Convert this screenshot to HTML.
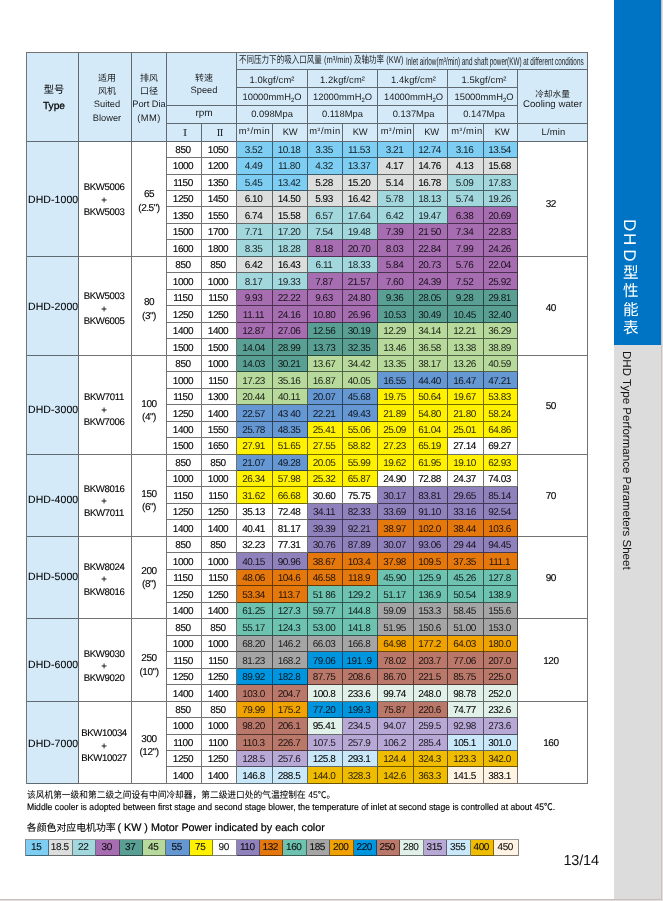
<!DOCTYPE html>
<html lang="zh-CN">
<head>
<meta charset="utf-8">
<title>DHD型性能表 DHD Type Performance Parameters Sheet</title>
<style>
html,body{margin:0;padding:0}
body{width:663px;height:901px;overflow:hidden;background:#e3dddd;position:relative;
 font-family:"Liberation Sans","Noto Sans CJK SC",sans-serif;color:#1c1c1c;
 text-rendering:geometricPrecision;-webkit-font-smoothing:antialiased}
.page{position:absolute;left:0;top:0;width:661px;height:899px;background:#fff;
 border-right:1px solid #c9c2c2;border-bottom:1px solid #c6bfbf;overflow:hidden}
.side{position:absolute;left:614px;top:0;width:47px;height:899px;background:#dcdcdc}
.side .blue{position:absolute;left:0;top:0;width:47px;height:345px;background:#0074c4}
.side h1{position:absolute;left:-1.2px;top:219px;width:33px;height:125px;margin:0;font-weight:400;color:#fff;
 font-size:15.6px;line-height:33px;writing-mode:vertical-rl;letter-spacing:2.85px;white-space:nowrap}
.side h1 .lat{font-size:17px;letter-spacing:3.1px}
.side h1 .l1{letter-spacing:1.8px}
.side h1 .l2{letter-spacing:3.9px}
.side h1 .l3{letter-spacing:2.45px}
.side h2{position:absolute;left:-1.6px;top:351px;width:27px;height:230px;margin:0;font-weight:400;color:#111;
 font-size:11.56px;line-height:27px;writing-mode:vertical-rl;white-space:nowrap}
table.t{position:absolute;left:26px;top:52px;border-collapse:separate;border-spacing:0;table-layout:fixed;
 border-left:1px solid #737373;border-top:1px solid #737373;width:562px}
table.t td,table.t th{box-sizing:border-box;padding:0;margin:0;border-right:1px solid rgba(0,0,0,.55);border-bottom:1px solid rgba(0,0,0,.55);
 text-align:center;vertical-align:middle;font-weight:400;overflow:hidden;white-space:nowrap}
table.t td{font-size:10px;line-height:12px;letter-spacing:-.45px;padding-top:2px}
table.t th{background:#d4eaf9;font-size:9.4px;line-height:12px}
table.t td.d{vertical-align:top;padding:0 2px 0 0;color:rgba(0,0,0,.85)}
table.t td.d.k{color:#000;-webkit-text-stroke:.06px #000}
table.t tr.r1 td.d{padding-top:1px}
table.t tr.r2 td.d{padding-top:2px}
table.t tr.r3 td.d{padding-top:3px}
table.t tr.r4 td.d{padding-top:4px}
table.t tr.r5 td.d{padding-top:5px}
table.t td.ty{background:#d4eaf9;font-size:10.5px;letter-spacing:.08px;padding-top:2px;padding-left:1px;color:#000;-webkit-text-stroke:.06px #000}
table.t td.w,table.t td.d.w{background:#fff;color:#000;-webkit-text-stroke:.12px #000}
table.t td.bl{line-height:12.4px;font-size:9.6px;letter-spacing:-.35px;padding-top:5px;padding-right:2px}
table.t td.di{line-height:13.3px;font-size:10px;padding-top:5px}
table.t td.cw{padding-right:3.4px}
table.t th.h4{line-height:13.2px;font-size:9.3px}
table.t th.h4 .zh{font-size:9px}
table.t th.tp{font-size:10.2px;line-height:15.8px;padding-left:3px;padding-top:3px;color:#000}
table.t th.tp .b{-webkit-text-stroke:.25px #000}
table.t th .up{position:relative;top:-1px}
table.t th .mm{letter-spacing:.4px}
table.t th.sb{padding-left:4px;padding-top:3px}
table.t th.pd{padding-top:3px}
table.t th.sp{padding-left:5px;padding-top:12px}
table.t th.rpm{padding-left:5px;font-size:10px;padding-bottom:1px}
table.t th.ro{padding-left:2px;padding-bottom:2px;font-size:9.2px;color:#000;-webkit-text-stroke:.15px #000;font-family:"Noto Serif CJK SC","Liberation Serif",serif}
table.t th.p1{padding-top:2px;letter-spacing:.15px}
table.t th.p2{padding-top:1px}
table.t th.p3{padding-bottom:1px}
table.t th.u{letter-spacing:.55px;padding-bottom:2px}
table.t th.u .s3{font-size:7.5px;position:relative;top:-1.2px;letter-spacing:.9px}
table.t th.g3{padding-left:2px}
table.t th.g4{padding-left:3px}
table.t th.kw{letter-spacing:-.3px;padding-bottom:2px}
table.t th.lm{padding-left:2px;letter-spacing:.2px;padding-bottom:2px}
table.t th.cwh{font-size:9.7px;line-height:9.7px;padding-top:6px}
table.t th.cwh .zh{font-size:8.7px}
table.t th.ttl{text-align:left;font-size:9px;position:relative}
.cx{position:absolute;top:2px;line-height:12px;transform-origin:0 50%;white-space:nowrap}
.cx.zh{left:1.9px;font-size:10px;transform:scaleX(.753)}
.cx.en{left:168.8px;top:3px;font-size:11px;transform:scaleX(.578)}
.note{position:absolute;left:26.8px;margin:0;white-space:nowrap;color:#000;transform-origin:0 50%}
.n1{top:789.3px;font-size:9.3px;line-height:12px;transform:scaleX(.937);-webkit-text-stroke:.06px #000}
.n2{top:801.4px;font-size:9.3px;line-height:12px;transform:scaleX(.928);-webkit-text-stroke:.15px #000}
.n3{top:820.1px;font-size:9.9px;line-height:16px;-webkit-text-stroke:.08px #000}
.n3 .lt{font-size:10.75px;margin-left:-1.2px;-webkit-text-stroke:.2px #000}
.legend{position:absolute;left:25px;top:839px;border-collapse:separate;border-spacing:0;table-layout:fixed;
 border-left:1px solid #858585;border-top:1px solid #9a9a9a}
.legend td{box-sizing:border-box;padding:1px 1.5px 0 0;height:16px;border-right:1px solid rgba(0,0,0,.45);border-bottom:1px solid rgba(0,0,0,.5);
 text-align:center;font-size:10px;letter-spacing:-.4px;line-height:12px;vertical-align:middle;color:rgba(0,0,0,.92);-webkit-text-stroke:.1px rgba(0,0,0,.92)}
.pg{position:absolute;left:563.5px;top:851px;font-size:14.5px;letter-spacing:-.2px;line-height:20px;color:#111}
sub{font-size:6px;vertical-align:-2px;line-height:0}
</style>
</head>
<body>
<div class="page">
<table class="t">
<colgroup><col style="width:52px"><col style="width:53px"><col style="width:35px"><col style="width:35px"><col style="width:35px"><col style="width:36px"><col style="width:35px"><col style="width:35px"><col style="width:35px"><col style="width:36px"><col style="width:34px"><col style="width:36px"><col style="width:34px"><col style="width:70px"></colgroup>
<thead>
<tr style="height:17px"><th rowspan="5" class="tp">型号<br><span class="b">Type</span></th><th rowspan="5" class="h4 sb"><span class="zh">适用</span><br><span class="zh">风机</span><br><span class="up">Suited</span><br>Blower</th><th rowspan="5" class="h4 pd"><span class="zh">排风</span><br><span class="zh">口径</span><br><span class="up">Port Dia</span><br><span class="mm">(MM)</span></th><th rowspan="3" colspan="2" class="h4 sp"><span class="zh">转速</span><br><span class="up">Speed</span></th><th colspan="9" class="ttl"><span class="cx zh">不同压力下的吸入口风量 (m³/min) 及轴功率 (KW)</span><span class="cx en">Inlet airlow(m³/min) and shaft power(KW) at different conditions</span></th></tr>
<tr style="height:18px"><th colspan="2" class="p1 g1">1.0kgf/cm²</th><th colspan="2" class="p1 g2">1.2kgf/cm²</th><th colspan="2" class="p1 g3">1.4kgf/cm²</th><th colspan="2" class="p1 g4">1.5kgf/cm²</th><th rowspan="3" class="cwh"><span class="zh">冷却水量</span><br>Cooling water</th></tr>
<tr style="height:18px"><th colspan="2" class="p2 g1">10000mmH<sub>2</sub>O</th><th colspan="2" class="p2 g2">12000mmH<sub>2</sub>O</th><th colspan="2" class="p2 g3">14000mmH<sub>2</sub>O</th><th colspan="2" class="p2 g4">15000mmH<sub>2</sub>O</th></tr>
<tr style="height:18px"><th colspan="2" class="rpm">rpm</th><th colspan="2" class="p3 g1">0.098Mpa</th><th colspan="2" class="p3 g2">0.118Mpa</th><th colspan="2" class="p3 g3">0.137Mpa</th><th colspan="2" class="p3 g4">0.147Mpa</th></tr>
<tr style="height:18px"><th class="ro">Ⅰ</th><th class="ro">Ⅱ</th><th class="u g1">m<span class="s3">³</span>/min</th><th class="kw g1">KW</th><th class="u g2">m<span class="s3">³</span>/min</th><th class="kw g2">KW</th><th class="u g3">m<span class="s3">³</span>/min</th><th class="kw g3">KW</th><th class="u g4">m<span class="s3">³</span>/min</th><th class="kw g4">KW</th><th class="lm">L/min</th></tr>
</thead>
<tbody>
<tr class="r3" style="height:16px"><td rowspan="7" class="ty" style="padding-top:1.2px">DHD-1000</td><td rowspan="7" class="w bl" style="padding-top:3.8px">BKW5006<br>+<br>BKW5003</td><td rowspan="7" class="w di" style="padding-top:5px">65<br>(2.5")</td><td class="d w">850</td><td class="d w">1050</td><td class="d" style="background:#7ecef4">3.52</td><td class="d" style="background:#7ecef4">10.18</td><td class="d" style="background:#7ecef4">3.35</td><td class="d" style="background:#7ecef4">11.53</td><td class="d" style="background:#7ecef4">3.21</td><td class="d" style="background:#7ecef4">12.74</td><td class="d" style="background:#7ecef4">3.16</td><td class="d" style="background:#7ecef4">13.54</td><td rowspan="7" class="w cw" style="padding-top:11px">32</td></tr>
<tr class="r3" style="height:17px"><td class="d w">1000</td><td class="d w">1200</td><td class="d" style="background:#7ecef4">4.49</td><td class="d" style="background:#7ecef4">11.80</td><td class="d" style="background:#7ecef4">4.32</td><td class="d" style="background:#7ecef4">13.37</td><td class="d k" style="background:#dcdddd">4.17</td><td class="d k" style="background:#dcdddd">14.76</td><td class="d k" style="background:#dcdddd">4.13</td><td class="d k" style="background:#dcdddd">15.68</td></tr>
<tr class="r3" style="height:16px"><td class="d w">1150</td><td class="d w">1350</td><td class="d" style="background:#7ecef4">5.45</td><td class="d" style="background:#7ecef4">13.42</td><td class="d k" style="background:#dcdddd">5.28</td><td class="d k" style="background:#dcdddd">15.20</td><td class="d k" style="background:#dcdddd">5.14</td><td class="d k" style="background:#dcdddd">16.78</td><td class="d" style="background:#a2d7dd">5.09</td><td class="d" style="background:#a2d7dd">17.83</td></tr>
<tr class="r3" style="height:16px"><td class="d w">1250</td><td class="d w">1450</td><td class="d k" style="background:#dcdddd">6.10</td><td class="d k" style="background:#dcdddd">14.50</td><td class="d k" style="background:#dcdddd">5.93</td><td class="d k" style="background:#dcdddd">16.42</td><td class="d" style="background:#a2d7dd">5.78</td><td class="d" style="background:#a2d7dd">18.13</td><td class="d" style="background:#a2d7dd">5.74</td><td class="d" style="background:#a2d7dd">19.26</td></tr>
<tr class="r4" style="height:17px"><td class="d w">1350</td><td class="d w">1550</td><td class="d k" style="background:#dcdddd">6.74</td><td class="d k" style="background:#dcdddd">15.58</td><td class="d" style="background:#a2d7dd">6.57</td><td class="d" style="background:#a2d7dd">17.64</td><td class="d" style="background:#a2d7dd">6.42</td><td class="d" style="background:#a2d7dd">19.47</td><td class="d" style="background:#a66db0">6.38</td><td class="d" style="background:#a66db0">20.69</td></tr>
<tr class="r3" style="height:16px"><td class="d w">1500</td><td class="d w">1700</td><td class="d" style="background:#a2d7dd">7.71</td><td class="d" style="background:#a2d7dd">17.20</td><td class="d" style="background:#a2d7dd">7.54</td><td class="d" style="background:#a2d7dd">19.48</td><td class="d" style="background:#a66db0">7.39</td><td class="d" style="background:#a66db0">21 50</td><td class="d" style="background:#a66db0">7.34</td><td class="d" style="background:#a66db0">22.83</td></tr>
<tr class="r4" style="height:17px"><td class="d w">1600</td><td class="d w">1800</td><td class="d" style="background:#a2d7dd">8.35</td><td class="d" style="background:#a2d7dd">18.28</td><td class="d" style="background:#a66db0">8.18</td><td class="d" style="background:#a66db0">20.70</td><td class="d" style="background:#a66db0">8.03</td><td class="d" style="background:#a66db0">22.84</td><td class="d" style="background:#a66db0">7.99</td><td class="d" style="background:#a66db0">24.26</td></tr>
<tr class="r3" style="height:16px"><td rowspan="6" class="ty" style="padding-top:2px">DHD-2000</td><td rowspan="6" class="w bl" style="padding-top:7.6px">BKW5003<br>+<br>BKW6005</td><td rowspan="6" class="w di" style="padding-top:7.2px">80<br>(3")</td><td class="d w">850</td><td class="d w">850</td><td class="d k" style="background:#dcdddd">6.42</td><td class="d k" style="background:#dcdddd">16.43</td><td class="d" style="background:#a2d7dd">6.11</td><td class="d" style="background:#a2d7dd">18.33</td><td class="d" style="background:#a66db0">5.84</td><td class="d" style="background:#a66db0">20.73</td><td class="d" style="background:#a66db0">5.76</td><td class="d" style="background:#a66db0">22.04</td><td rowspan="6" class="w cw" style="padding-top:6.7px">40</td></tr>
<tr class="r4" style="height:17px"><td class="d w">1000</td><td class="d w">1000</td><td class="d" style="background:#a2d7dd">8.17</td><td class="d" style="background:#a2d7dd">19.33</td><td class="d" style="background:#a66db0">7.87</td><td class="d" style="background:#a66db0">21.57</td><td class="d" style="background:#a66db0">7.60</td><td class="d" style="background:#a66db0">24.39</td><td class="d" style="background:#a66db0">7.52</td><td class="d" style="background:#a66db0">25.92</td></tr>
<tr class="r3" style="height:16px"><td class="d w">1150</td><td class="d w">1150</td><td class="d" style="background:#a66db0">9.93</td><td class="d" style="background:#a66db0">22.22</td><td class="d" style="background:#a66db0">9.63</td><td class="d" style="background:#a66db0">24.80</td><td class="d" style="background:#5a9f93">9.36</td><td class="d" style="background:#5a9f93">28.05</td><td class="d" style="background:#5a9f93">9.28</td><td class="d" style="background:#5a9f93">29.81</td></tr>
<tr class="r4" style="height:17px"><td class="d w">1250</td><td class="d w">1250</td><td class="d" style="background:#a66db0">11.11</td><td class="d" style="background:#a66db0">24.16</td><td class="d" style="background:#a66db0">10.80</td><td class="d" style="background:#a66db0">26.96</td><td class="d" style="background:#5a9f93">10.53</td><td class="d" style="background:#5a9f93">30.49</td><td class="d" style="background:#5a9f93">10.45</td><td class="d" style="background:#5a9f93">32.40</td></tr>
<tr class="r3" style="height:16px"><td class="d w">1400</td><td class="d w">1400</td><td class="d" style="background:#a66db0">12.87</td><td class="d" style="background:#a66db0">27.06</td><td class="d" style="background:#5a9f93">12.56</td><td class="d" style="background:#5a9f93">30.19</td><td class="d" style="background:#b7d99b">12.29</td><td class="d" style="background:#b7d99b">34.14</td><td class="d" style="background:#b7d99b">12.21</td><td class="d" style="background:#b7d99b">36.29</td></tr>
<tr class="r4" style="height:17px"><td class="d w">1500</td><td class="d w">1500</td><td class="d" style="background:#5a9f93">14.04</td><td class="d" style="background:#5a9f93">28.99</td><td class="d" style="background:#5a9f93">13.73</td><td class="d" style="background:#5a9f93">32.35</td><td class="d" style="background:#b7d99b">13.46</td><td class="d" style="background:#b7d99b">36.58</td><td class="d" style="background:#b7d99b">13.38</td><td class="d" style="background:#b7d99b">38.89</td></tr>
<tr class="r3" style="height:16px"><td rowspan="6" class="ty" style="padding-top:9.4px">DHD-3000</td><td rowspan="6" class="w bl" style="padding-top:12px">BKW7011<br>+<br>BKW7006</td><td rowspan="6" class="w di" style="padding-top:12px">100<br>(4")</td><td class="d w">850</td><td class="d w">1000</td><td class="d" style="background:#5a9f93">14.03</td><td class="d" style="background:#5a9f93">30.21</td><td class="d" style="background:#b7d99b">13.67</td><td class="d" style="background:#b7d99b">34.42</td><td class="d" style="background:#b7d99b">13.35</td><td class="d" style="background:#b7d99b">38.17</td><td class="d" style="background:#b7d99b">13.26</td><td class="d" style="background:#b7d99b">40.59</td><td rowspan="6" class="w cw" style="padding-top:3.6px">50</td></tr>
<tr class="r4" style="height:17px"><td class="d w">1000</td><td class="d w">1150</td><td class="d" style="background:#b7d99b">17.23</td><td class="d" style="background:#b7d99b">35.16</td><td class="d" style="background:#b7d99b">16.87</td><td class="d" style="background:#b7d99b">40.05</td><td class="d" style="background:#6597d3">16.55</td><td class="d" style="background:#6597d3">44.40</td><td class="d" style="background:#6597d3">16.47</td><td class="d" style="background:#6597d3">47.21</td></tr>
<tr class="r3" style="height:16px"><td class="d w">1150</td><td class="d w">1300</td><td class="d" style="background:#b7d99b">20.44</td><td class="d" style="background:#b7d99b">40.11</td><td class="d" style="background:#6597d3">20.07</td><td class="d" style="background:#6597d3">45.68</td><td class="d" style="background:#fff100">19.75</td><td class="d" style="background:#fff100">50.64</td><td class="d" style="background:#fff100">19.67</td><td class="d" style="background:#fff100">53.83</td></tr>
<tr class="r4" style="height:17px"><td class="d w">1250</td><td class="d w">1400</td><td class="d" style="background:#6597d3">22.57</td><td class="d" style="background:#6597d3">43 40</td><td class="d" style="background:#6597d3">22.21</td><td class="d" style="background:#6597d3">49.43</td><td class="d" style="background:#fff100">21.89</td><td class="d" style="background:#fff100">54.80</td><td class="d" style="background:#fff100">21.80</td><td class="d" style="background:#fff100">58.24</td></tr>
<tr class="r3" style="height:16px"><td class="d w">1400</td><td class="d w">1550</td><td class="d" style="background:#6597d3">25.78</td><td class="d" style="background:#6597d3">48.35</td><td class="d" style="background:#fff100">25.41</td><td class="d" style="background:#fff100">55.06</td><td class="d" style="background:#fff100">25.09</td><td class="d" style="background:#fff100">61.04</td><td class="d" style="background:#fff100">25.01</td><td class="d" style="background:#fff100">64.86</td></tr>
<tr class="r3" style="height:17px"><td class="d w">1500</td><td class="d w">1650</td><td class="d" style="background:#fff100">27.91</td><td class="d" style="background:#fff100">51.65</td><td class="d" style="background:#fff100">27.55</td><td class="d" style="background:#fff100">58.82</td><td class="d" style="background:#fff100">27.23</td><td class="d" style="background:#fff100">65.19</td><td class="d w">27.14</td><td class="d w">69.27</td></tr>
<tr class="r3" style="height:16px"><td rowspan="5" class="ty" style="padding-top:8.2px">DHD-4000</td><td rowspan="5" class="w bl" style="padding-top:13.4px">BKW8016<br>+<br>BKW7011</td><td rowspan="5" class="w di" style="padding-top:11.4px">150<br>(6")</td><td class="d w">850</td><td class="d w">850</td><td class="d" style="background:#6597d3">21.07</td><td class="d" style="background:#6597d3">49.28</td><td class="d" style="background:#fff100">20.05</td><td class="d" style="background:#fff100">55.99</td><td class="d" style="background:#fff100">19.62</td><td class="d" style="background:#fff100">61.95</td><td class="d" style="background:#fff100">19.10</td><td class="d" style="background:#fff100">62.93</td><td rowspan="5" class="w cw" style="padding-top:2.4px">70</td></tr>
<tr class="r3" style="height:16px"><td class="d w">1000</td><td class="d w">1000</td><td class="d" style="background:#fff100">26.34</td><td class="d" style="background:#fff100">57.98</td><td class="d" style="background:#fff100">25.32</td><td class="d" style="background:#fff100">65.87</td><td class="d w">24.90</td><td class="d w">72.88</td><td class="d w">24.37</td><td class="d w">74.03</td></tr>
<tr class="r4" style="height:17px"><td class="d w">1150</td><td class="d w">1150</td><td class="d" style="background:#fff100">31.62</td><td class="d" style="background:#fff100">66.68</td><td class="d w">30.60</td><td class="d w">75.75</td><td class="d" style="background:#8f82bc">30.17</td><td class="d" style="background:#8f82bc">83.81</td><td class="d" style="background:#8f82bc">29.65</td><td class="d" style="background:#8f82bc">85.14</td></tr>
<tr class="r3" style="height:16px"><td class="d w">1250</td><td class="d w">1250</td><td class="d w">35.13</td><td class="d w">72.48</td><td class="d" style="background:#8f82bc">34.11</td><td class="d" style="background:#8f82bc">82.33</td><td class="d" style="background:#8f82bc">33.69</td><td class="d" style="background:#8f82bc">91.10</td><td class="d" style="background:#8f82bc">33.16</td><td class="d" style="background:#8f82bc">92.54</td></tr>
<tr class="r4" style="height:17px"><td class="d w">1400</td><td class="d w">1400</td><td class="d w">40.41</td><td class="d w">81.17</td><td class="d" style="background:#8f82bc">39.39</td><td class="d" style="background:#8f82bc">92.21</td><td class="d" style="background:#e4780d">38.97</td><td class="d" style="background:#e4780d">102.0</td><td class="d" style="background:#e4780d">38.44</td><td class="d" style="background:#e4780d">103.6</td></tr>
<tr class="r3" style="height:16px"><td rowspan="5" class="ty" style="padding-top:0;padding-bottom:1.6px">DHD-5000</td><td rowspan="5" class="w bl" style="padding-top:5.6px">BKW8024<br>+<br>BKW8016</td><td rowspan="5" class="w di" style="padding-top:1.2px">200<br>(8")</td><td class="d w">850</td><td class="d w">850</td><td class="d w">32.23</td><td class="d w">77.31</td><td class="d" style="background:#8f82bc">30.76</td><td class="d" style="background:#8f82bc">87.89</td><td class="d" style="background:#8f82bc">30.07</td><td class="d" style="background:#8f82bc">93.06</td><td class="d" style="background:#8f82bc">29 44</td><td class="d" style="background:#8f82bc">94.45</td><td rowspan="5" class="w cw" style="padding-top:2.8px">90</td></tr>
<tr class="r4" style="height:17px"><td class="d w">1000</td><td class="d w">1000</td><td class="d" style="background:#8f82bc">40.15</td><td class="d" style="background:#8f82bc">90.96</td><td class="d" style="background:#e4780d">38.67</td><td class="d" style="background:#e4780d">103.4</td><td class="d" style="background:#e4780d">37.98</td><td class="d" style="background:#e4780d">109.5</td><td class="d" style="background:#e4780d">37.35</td><td class="d" style="background:#e4780d">111.1</td></tr>
<tr class="r3" style="height:16px"><td class="d w">1150</td><td class="d w">1150</td><td class="d" style="background:#e4780d">48.06</td><td class="d" style="background:#e4780d">104.6</td><td class="d" style="background:#e4780d">46.58</td><td class="d" style="background:#e4780d">118.9</td><td class="d" style="background:#6dc3b0">45.90</td><td class="d" style="background:#6dc3b0">125.9</td><td class="d" style="background:#6dc3b0">45.26</td><td class="d" style="background:#6dc3b0">127.8</td></tr>
<tr class="r4" style="height:17px"><td class="d w">1250</td><td class="d w">1250</td><td class="d" style="background:#e4780d">53.34</td><td class="d" style="background:#e4780d">113.7</td><td class="d" style="background:#6dc3b0">51 86</td><td class="d" style="background:#6dc3b0">129.2</td><td class="d" style="background:#6dc3b0">51.17</td><td class="d" style="background:#6dc3b0">136.9</td><td class="d" style="background:#6dc3b0">50.54</td><td class="d" style="background:#6dc3b0">138.9</td></tr>
<tr class="r3" style="height:16px"><td class="d w">1400</td><td class="d w">1400</td><td class="d" style="background:#6dc3b0">61.25</td><td class="d" style="background:#6dc3b0">127.3</td><td class="d" style="background:#6dc3b0">59.77</td><td class="d" style="background:#6dc3b0">144.8</td><td class="d" style="background:#a5a5a5">59.09</td><td class="d" style="background:#a5a5a5">153.3</td><td class="d" style="background:#a5a5a5">58.45</td><td class="d" style="background:#a5a5a5">155.6</td></tr>
<tr class="r4" style="height:17px"><td rowspan="5" class="ty" style="padding-top:10.8px">DHD-6000</td><td rowspan="5" class="w bl" style="padding-top:14.4px">BKW9030<br>+<br>BKW9020</td><td rowspan="5" class="w di" style="padding-top:11.2px">250<br>(10")</td><td class="d w">850</td><td class="d w">850</td><td class="d" style="background:#6dc3b0">55.17</td><td class="d" style="background:#6dc3b0">124.3</td><td class="d" style="background:#6dc3b0">53.00</td><td class="d" style="background:#6dc3b0">141.8</td><td class="d" style="background:#a5a5a5">51.95</td><td class="d" style="background:#a5a5a5">150.6</td><td class="d" style="background:#a5a5a5">51.00</td><td class="d" style="background:#a5a5a5">153.0</td><td rowspan="5" class="w cw" style="padding-top:3.4px">120</td></tr>
<tr class="r3" style="height:16px"><td class="d w">1000</td><td class="d w">1000</td><td class="d" style="background:#a5a5a5">68.20</td><td class="d" style="background:#a5a5a5">146.2</td><td class="d" style="background:#a5a5a5">66.03</td><td class="d" style="background:#a5a5a5">166.8</td><td class="d" style="background:#efa200">64.98</td><td class="d" style="background:#efa200">177.2</td><td class="d" style="background:#efa200">64.03</td><td class="d" style="background:#efa200">180.0</td></tr>
<tr class="r4" style="height:17px"><td class="d w">1150</td><td class="d w">1150</td><td class="d" style="background:#a5a5a5">81.23</td><td class="d" style="background:#a5a5a5">168.2</td><td class="d" style="background:#0096df">79.06</td><td class="d" style="background:#0096df">191 .9</td><td class="d" style="background:#b9786a">78.02</td><td class="d" style="background:#b9786a">203.7</td><td class="d" style="background:#b9786a">77.06</td><td class="d" style="background:#b9786a">207.0</td></tr>
<tr class="r3" style="height:16px"><td class="d w">1250</td><td class="d w">1250</td><td class="d" style="background:#0096df">89.92</td><td class="d" style="background:#0096df">182.8</td><td class="d" style="background:#b9786a">87.75</td><td class="d" style="background:#b9786a">208.6</td><td class="d" style="background:#b9786a">86.70</td><td class="d" style="background:#b9786a">221.5</td><td class="d" style="background:#b9786a">85.75</td><td class="d" style="background:#b9786a">225.0</td></tr>
<tr class="r4" style="height:17px"><td class="d w">1400</td><td class="d w">1400</td><td class="d" style="background:#b9786a">103.0</td><td class="d" style="background:#b9786a">204.7</td><td class="d k" style="background:#e1f1ea">100.8</td><td class="d k" style="background:#e1f1ea">233.6</td><td class="d k" style="background:#e1f1ea">99.74</td><td class="d k" style="background:#e1f1ea">248.0</td><td class="d k" style="background:#e1f1ea">98.78</td><td class="d k" style="background:#e1f1ea">252.0</td></tr>
<tr class="r3" style="height:16px"><td rowspan="5" class="ty" style="padding-top:2px">DHD-7000</td><td rowspan="5" class="w bl" style="padding-top:9px">BKW10034<br>+<br>BKW10027</td><td rowspan="5" class="w di" style="padding-top:6.8px">300<br>(12")</td><td class="d w">850</td><td class="d w">850</td><td class="d" style="background:#efa200">79.99</td><td class="d" style="background:#efa200">175.2</td><td class="d" style="background:#0096df">77.20</td><td class="d" style="background:#0096df">199.3</td><td class="d" style="background:#b9786a">75.87</td><td class="d" style="background:#b9786a">220.6</td><td class="d k" style="background:#e1f1ea">74.77</td><td class="d k" style="background:#e1f1ea">232.6</td><td rowspan="5" class="w cw" style="padding-top:2.8px">160</td></tr>
<tr class="r3" style="height:17px"><td class="d w">1000</td><td class="d w">1000</td><td class="d" style="background:#b9786a">98.20</td><td class="d" style="background:#b9786a">206.1</td><td class="d k" style="background:#e1f1ea">95.41</td><td class="d" style="background:#b7a8d6">234.5</td><td class="d" style="background:#b7a8d6">94.07</td><td class="d" style="background:#b7a8d6">259.5</td><td class="d" style="background:#b7a8d6">92.98</td><td class="d" style="background:#b7a8d6">273.6</td></tr>
<tr class="r3" style="height:16px"><td class="d w">1100</td><td class="d w">1100</td><td class="d" style="background:#b9786a">110.3</td><td class="d" style="background:#b9786a">226.7</td><td class="d" style="background:#b7a8d6">107.5</td><td class="d" style="background:#b7a8d6">257.9</td><td class="d" style="background:#b7a8d6">106.2</td><td class="d" style="background:#b7a8d6">285.4</td><td class="d k" style="background:#c9e8fa">105.1</td><td class="d k" style="background:#c9e8fa">301.0</td></tr>
<tr class="r3" style="height:16px"><td class="d w">1250</td><td class="d w">1250</td><td class="d" style="background:#b7a8d6">128.5</td><td class="d" style="background:#b7a8d6">257.6</td><td class="d k" style="background:#c9e8fa">125.8</td><td class="d k" style="background:#c9e8fa">293.1</td><td class="d" style="background:#f0bc00">124.4</td><td class="d" style="background:#f0bc00">324.3</td><td class="d" style="background:#f0bc00">123.3</td><td class="d" style="background:#f0bc00">342.0</td></tr>
<tr class="r4" style="height:17px"><td class="d w">1400</td><td class="d w">1400</td><td class="d k" style="background:#c9e8fa">146.8</td><td class="d k" style="background:#c9e8fa">288.5</td><td class="d" style="background:#f0bc00">144.0</td><td class="d" style="background:#f0bc00">328.3</td><td class="d" style="background:#f0bc00">142.6</td><td class="d" style="background:#f0bc00">363.3</td><td class="d k" style="background:#fff3e3">141.5</td><td class="d k" style="background:#fff3e3">383.1</td></tr>
</tbody>
</table>
<p class="note n1">该风机第一级和第二级之间设有中间冷却器，第二级进口处的气温控制在 45℃。</p>
<p class="note n2">Middle cooler is adopted between first stage and second stage blower, the temperature of inlet at second stage is controlled at about 45℃.</p>
<p class="note n3">各颜色对应电机功率<span class="lt"> ( KW ) Motor Power indicated by each color</span></p>
<table class="legend"><tr><td style="width:23px;background:#7ecef4">15</td><td style="width:24px;background:#dcdddd">18.5</td><td style="width:23px;background:#a2d7dd">22</td><td style="width:24px;background:#a66db0">30</td><td style="width:23px;background:#5a9f93">37</td><td style="width:23px;background:#b7d99b">45</td><td style="width:24px;background:#6597d3">55</td><td style="width:23px;background:#fff100">75</td><td style="width:24px;background:#ffffff">90</td><td style="width:23px;background:#8f82bc">110</td><td style="width:23px;background:#e4780d">132</td><td style="width:24px;background:#6dc3b0">160</td><td style="width:23px;background:#a5a5a5">185</td><td style="width:24px;background:#efa200">200</td><td style="width:23px;background:#0096df">220</td><td style="width:23px;background:#b9786a">250</td><td style="width:24px;background:#e1f1ea">280</td><td style="width:23px;background:#b7a8d6">315</td><td style="width:24px;background:#c9e8fa">355</td><td style="width:23px;background:#f0bc00">400</td><td style="width:25px;background:#fff3e3">450</td></tr></table>
<div class="pg">13/14</div>
<div class="side"><div class="blue"></div><h1><span class="lat"><span class="l1">D</span><span class="l2">H</span><span class="l3">D</span></span>型性能表</h1><h2>DHD Type Performance Parameters Sheet</h2></div>
</div>
</body>
</html>
